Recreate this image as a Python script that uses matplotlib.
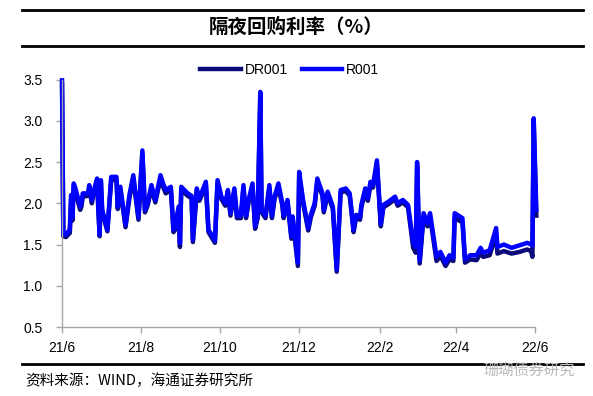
import numpy as np
import pandas as pd
import matplotlib
matplotlib.use("Agg")
from matplotlib import pyplot as plt
import matplotlib.dates as mdates
from matplotlib.lines import Line2D
from matplotlib.ticker import FuncFormatter

plt.rcParams['font.family'] = ['Liberation Sans', 'Noto Sans CJK SC', 'DejaVu Sans']

TITLE = "隔夜回购利率（%）"
SOURCE = "资料来源：WIND，海通证券研究所"
WATERMARK = "珊瑚债券研究"

dates = [
    "2021-06-01", "2021-06-02", "2021-06-04", "2021-06-07", "2021-06-08", "2021-06-09",
    "2021-06-10", "2021-06-11", "2021-06-15", "2021-06-16", "2021-06-17", "2021-06-21",
    "2021-06-22", "2021-06-24", "2021-06-25", "2021-06-28", "2021-06-30", "2021-07-01",
    "2021-07-02", "2021-07-06", "2021-07-09", "2021-07-13", "2021-07-14", "2021-07-16",
    "2021-07-20", "2021-07-23", "2021-07-26", "2021-07-30", "2021-08-02", "2021-08-04",
    "2021-08-06", "2021-08-09", "2021-08-12", "2021-08-16", "2021-08-18", "2021-08-20",
    "2021-08-24", "2021-08-26", "2021-08-27", "2021-08-30", "2021-08-31", "2021-09-01",
    "2021-09-06", "2021-09-09", "2021-09-10", "2021-09-13", "2021-09-15", "2021-09-20",
    "2021-09-22", "2021-09-27", "2021-09-29", "2021-10-02", "2021-10-05", "2021-10-07",
    "2021-10-09", "2021-10-12", "2021-10-14", "2021-10-17", "2021-10-19", "2021-10-21",
    "2021-10-23", "2021-10-26", "2021-10-28", "2021-10-30", "2021-11-01", "2021-11-02",
    "2021-11-05", "2021-11-08", "2021-11-10", "2021-11-12", "2021-11-15", "2021-11-18",
    "2021-11-19", "2021-11-22", "2021-11-25", "2021-11-26", "2021-11-30", "2021-12-01",
    "2021-12-04", "2021-12-08", "2021-12-10", "2021-12-13", "2021-12-15", "2021-12-19",
    "2021-12-20", "2021-12-23", "2021-12-27", "2021-12-30", "2022-01-02", "2022-01-06",
    "2022-01-09", "2022-01-12", "2022-01-14", "2022-01-17", "2022-01-18", "2022-01-21",
    "2022-01-23", "2022-01-25", "2022-01-27", "2022-01-30", "2022-02-02", "2022-02-04",
    "2022-02-08", "2022-02-13", "2022-02-15", "2022-02-19", "2022-02-23", "2022-02-27",
    "2022-03-01", "2022-03-02", "2022-03-04", "2022-03-07", "2022-03-10", "2022-03-12",
    "2022-03-17", "2022-03-20", "2022-03-24", "2022-03-27", "2022-03-30", "2022-03-31",
    "2022-04-06", "2022-04-08", "2022-04-12", "2022-04-17", "2022-04-20", "2022-04-22",
    "2022-04-27", "2022-05-02", "2022-05-03", "2022-05-08", "2022-05-14", "2022-05-20",
    "2022-05-26", "2022-05-29", "2022-05-30", "2022-05-31", "2022-06-02",
]

r001 = [
    3.49, 1.63, 1.62, 1.68, 2.10, 1.83,
    2.24, 2.20, 1.96, 2.00, 2.12, 2.12,
    2.22, 2.04, 2.12, 2.30, 1.62, 2.28,
    1.92, 1.68, 2.32, 2.32, 1.96, 2.20,
    1.74, 2.10, 2.34, 1.83, 2.64, 1.92,
    2.00, 2.22, 2.04, 2.34, 2.24, 2.16,
    2.20, 1.68, 1.70, 1.96, 1.52, 2.20,
    2.12, 2.09, 1.56, 2.18, 2.06, 2.26,
    1.68, 1.55, 2.28, 2.08, 2.00, 2.16,
    1.88, 2.18, 1.85, 1.85, 2.22, 1.85,
    2.04, 2.24, 1.72, 1.85, 3.35, 1.92,
    1.85, 2.22, 1.85, 2.08, 2.24, 2.00,
    1.85, 2.04, 1.60, 1.84, 1.28, 2.38,
    2.04, 1.70, 1.86, 2.00, 2.30, 2.12,
    1.92, 2.14, 1.96, 1.20, 2.16, 2.18,
    2.12, 1.68, 1.86, 1.83, 1.98, 2.18,
    2.06, 2.26, 2.22, 2.52, 1.75, 1.98,
    2.02, 2.08, 2.00, 2.04, 1.98, 1.52,
    1.47, 2.50, 1.31, 1.88, 1.76, 1.88,
    1.35, 1.41, 1.28, 1.37, 1.34, 1.88,
    1.82, 1.32, 1.37, 1.37, 1.46, 1.40,
    1.43, 1.70, 1.47, 1.50, 1.46, 1.49,
    1.52, 1.50, 1.49, 3.03, 1.92,
]

dr001 = [
    3.45, 1.60, 1.59, 1.64, 2.05, 1.79,
    2.20, 2.16, 1.92, 1.96, 2.08, 2.09,
    2.18, 2.00, 2.09, 2.27, 1.60, 2.25,
    1.89, 1.66, 2.29, 2.28, 1.93, 2.16,
    1.71, 2.06, 2.30, 1.80, 2.60, 1.89,
    1.97, 2.18, 2.01, 2.30, 2.20, 2.12,
    2.16, 1.65, 1.67, 1.93, 1.47, 2.16,
    2.09, 2.06, 1.53, 2.15, 2.03, 2.22,
    1.65, 1.52, 2.24, 2.05, 1.97, 2.13,
    1.85, 2.15, 1.82, 1.82, 2.18, 1.82,
    2.01, 2.20, 1.69, 1.82, 3.30, 1.89,
    1.82, 2.18, 1.82, 2.05, 2.20, 1.97,
    1.82, 2.01, 1.57, 1.81, 1.24, 2.34,
    2.00, 1.67, 1.83, 1.97, 2.26, 2.09,
    1.89, 2.11, 1.93, 1.17, 2.13, 2.15,
    2.09, 1.65, 1.83, 1.80, 1.95, 2.15,
    2.03, 2.22, 2.19, 2.47, 1.72, 1.95,
    1.99, 2.05, 1.97, 2.01, 1.95, 1.46,
    1.40, 2.45, 1.27, 1.84, 1.72, 1.84,
    1.30, 1.36, 1.24, 1.32, 1.30, 1.82,
    1.77, 1.28, 1.32, 1.31, 1.40, 1.35,
    1.37, 1.62, 1.39, 1.42, 1.39, 1.41,
    1.44, 1.42, 1.35, 2.98, 1.85,
]

x = pd.to_datetime(dates)

fig = plt.figure(figsize=(5.93, 3.96), dpi=100)
ax = fig.add_axes([0.1046, 0.1742, 0.7976, 0.625])

ax.plot(x, dr001, color="#0a0a78", linewidth=3.2, label="DR001", clip_on=False,
        solid_joinstyle="round")
ax.plot(x, r001, color="#0000ff", linewidth=3.2, label="R001", clip_on=False,
        solid_joinstyle="round")

ax.set_xlim(pd.Timestamp("2021-06-01"), pd.Timestamp("2022-06-01"))
ax.set_ylim(0.5, 3.5)
ax.set_yticks(np.arange(0.5, 3.51, 0.5))
ax.yaxis.set_major_formatter(FuncFormatter(lambda v, p: "%.1f" % v))
ax.xaxis.set_major_locator(mdates.MonthLocator(bymonth=(2, 4, 6, 8, 10, 12)))
ax.xaxis.set_major_formatter(FuncFormatter(
    lambda v, p: "%d/%d" % (mdates.num2date(v).year % 100, mdates.num2date(v).month)))

for s in ["top", "right"]:
    ax.spines[s].set_visible(False)
for s in ["left", "bottom"]:
    ax.spines[s].set_color("#a6a6a6")
    ax.spines[s].set_linewidth(1.0)
ax.tick_params(axis="both", colors="#a6a6a6", labelcolor="black", labelsize=10,
               length=4, width=1.0, direction="out")
ax.tick_params(axis="y", pad=10)
ax.tick_params(axis="x", pad=6)

fig.legend(loc="center", bbox_to_anchor=(0.489, 0.823), ncol=2, frameon=False,
           fontsize=10, handlelength=2.9, handletextpad=0.3, columnspacing=1.0)

# frame lines and texts around the chart
for yy, lw in [(0.975, 2.0), (0.884, 2.0), (0.081, 2.0)]:
    fig.add_artist(Line2D([0.037, 0.983], [yy, yy], transform=fig.transFigure,
                          color="black", linewidth=lw))
fig.text(0.5, 0.931, TITLE, ha="center", va="center", fontsize=14, fontweight="bold",
         family=["Noto Sans CJK SC", "DejaVu Sans"])
fig.text(0.042, 0.038, SOURCE, ha="left", va="center", fontsize=10.5,
         family=["Noto Sans CJK SC", "DejaVu Sans"])
fig.text(0.97, 0.066, WATERMARK, ha="right", va="center", fontsize=11, color="#b8b8b8",
         family=["Noto Sans CJK SC", "DejaVu Sans"])

fig.savefig("out.png", dpi=100)
